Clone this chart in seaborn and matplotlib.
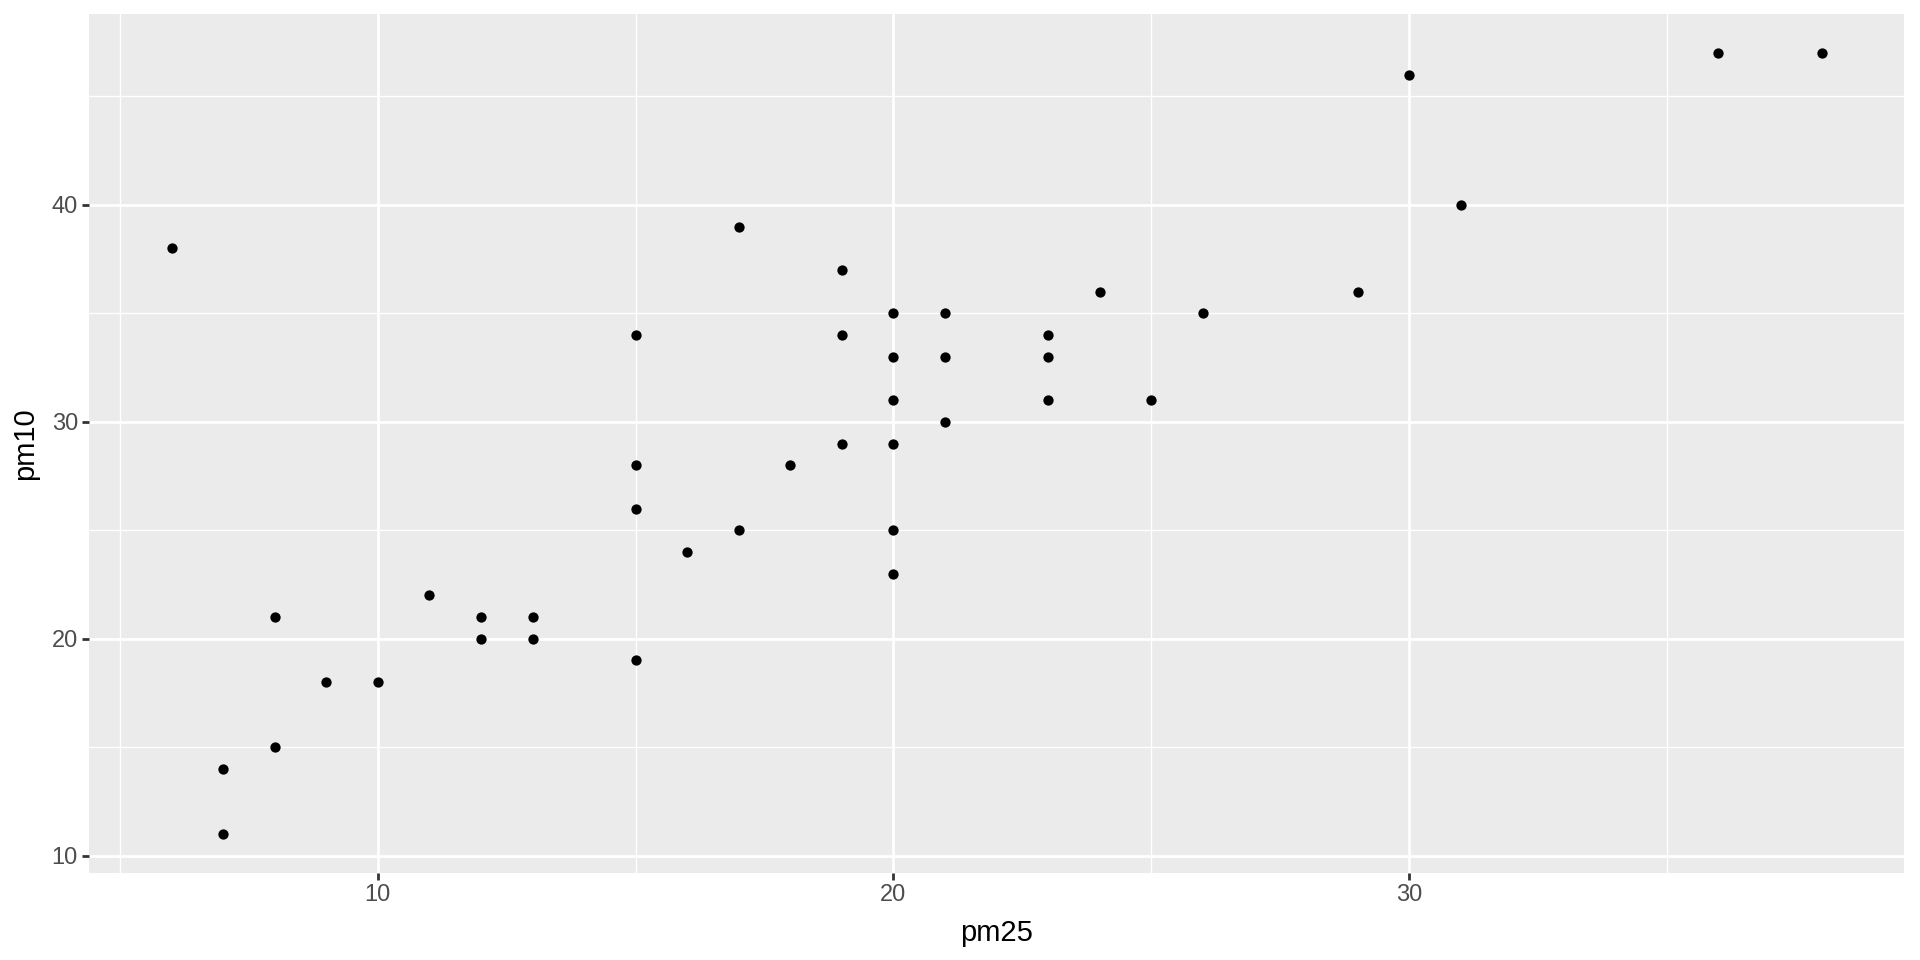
import numpy as np
import pandas as pd
import matplotlib
matplotlib.use('Agg')
import matplotlib.pyplot as plt
import seaborn as sns
from matplotlib.ticker import MultipleLocator

# values
pm25 = [6, 7, 7, 8, 8, 9, 10, 11, 12, 12, 13, 13, 15, 15, 15, 15, 16, 17, 17, 18,
        19, 19, 19, 20, 20, 20, 20, 20, 20, 21, 21, 21, 23, 23, 23, 24, 25, 26,
        29, 30, 31, 36, 38]
pm10 = [38, 14, 11, 21, 15, 18, 18, 22, 21, 20, 21, 20, 34, 28, 26, 19, 24, 39, 25, 28,
        37, 34, 29, 35, 33, 31, 29, 25, 23, 35, 33, 30, 34, 33, 31, 36, 31, 35,
        36, 46, 40, 47, 47]

df = pd.DataFrame({'pm25': pm25, 'pm10': pm10})

sns.set_theme(style="darkgrid", rc={
    'axes.facecolor': '#EBEBEB',
    'grid.color': 'white',
    'axes.edgecolor': '#EBEBEB',
})
plt.rcParams['font.family'] = ['Liberation Sans', 'DejaVu Sans']

fig = plt.figure(figsize=(19.2, 9.6), dpi=100)
ax = fig.add_axes([0.0464, 0.0906, 0.9453, 0.8948])

sns.scatterplot(data=df, x='pm25', y='pm10', color='black', s=55, linewidth=0, ax=ax, zorder=3)

# ggplot-style 5% expansion
xr = max(pm25) - min(pm25)
yr = max(pm10) - min(pm10)
ax.set_xlim(min(pm25) - 0.05 * xr, max(pm25) + 0.05 * xr)
ax.set_ylim(min(pm10) - 0.05 * yr, max(pm10) + 0.05 * yr)

ax.xaxis.set_major_locator(MultipleLocator(10))
ax.yaxis.set_major_locator(MultipleLocator(10))
ax.xaxis.set_minor_locator(MultipleLocator(5))
ax.yaxis.set_minor_locator(MultipleLocator(5))
ax.grid(which='major', color='white', linewidth=2.0)
ax.grid(which='minor', color='white', linewidth=1.0)
ax.set_axisbelow(True)
for s in ax.spines.values():
    s.set_visible(False)

ax.tick_params(axis='both', which='major', length=5, width=2, color='#333333',
               labelsize=17, labelcolor='#4D4D4D', pad=3, direction='out')
ax.tick_params(axis='both', which='minor', length=0)
ax.xaxis.set_tick_params(bottom=True)
ax.yaxis.set_tick_params(left=True)

ax.set_xlabel('pm25', fontsize=21, color='black', labelpad=9)
ax.set_ylabel('pm10', fontsize=21, color='black', labelpad=9)

fig.savefig('out.png', dpi=100)
